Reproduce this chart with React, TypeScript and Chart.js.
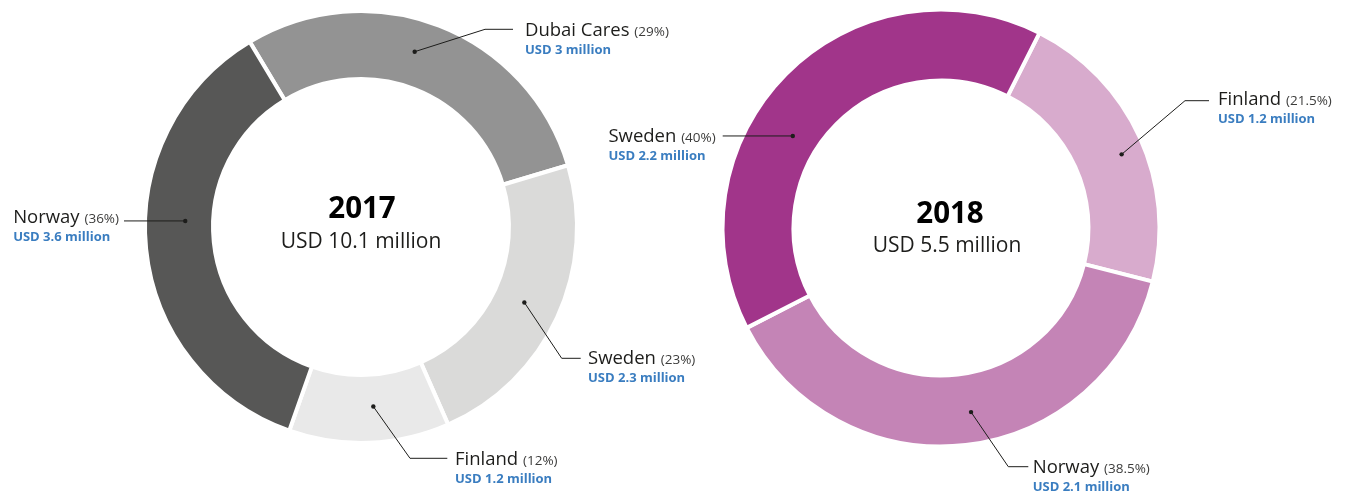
import React, { useEffect, useRef } from 'react';
import { Chart, registerables } from 'chart.js';

Chart.register(...registerables);

const W = 1345;
const H = 493;
const FONT = '"Open Sans", "Noto Sans", "DejaVu Sans", sans-serif';

// ---- data ----
const years = ['2017', '2018'];
const totals = [10.1, 5.5];

const donors2017 = ['Dubai Cares', 'Sweden', 'Finland', 'Norway'];
const shares2017 = [29, 23, 12, 36];
const usd2017 = [3, 2.3, 1.2, 3.6];
const colors2017 = ['#939393', '#dadad9', '#e9e9e9', '#575756'];

const donors2018 = ['Finland', 'Norway', 'Sweden'];
const shares2018 = [21.5, 38.5, 40];
const usd2018 = [1.2, 2.1, 2.2];
const colors2018 = ['#d8abcd', '#c484b6', '#a1358a'];

// ---- layout (label placement relative to donut centre) ----
type LabelLayout = {
  t: number; // fraction along the arc for the anchor dot
  r: number; // fraction between inner and outer radius
  elbow: [number, number] | null;
  endX: number;
  textX: number;
  textY: number;
  align: 'left' | 'right';
};

const layout2017: LabelLayout[] = [
  { t: 0.46, r: 0.52, elbow: [124, -197.7], endX: 152, textX: 164, textY: -191, align: 'left' },
  { t: 0.5, r: 0.47, elbow: [200.7, 131.3], endX: 219.7, textX: 227, textY: 137, align: 'left' },
  { t: 0.46, r: 0.47, elbow: [49, 231.3], endX: 86.3, textX: 94, textY: 238, align: 'left' },
  { t: 0.56, r: 0.41, elbow: null, endX: -237, textX: -242, textY: -4, align: 'right' },
];

const layout2018: LabelLayout[] = [
  { t: 0.53, r: 0.67, elbow: [244, -127.3], endX: 268, textX: 277, textY: -123, align: 'left' },
  { t: 0.48, r: 0.55, elbow: [67.3, 238.7], endX: 87.3, textX: 91.7, textY: 245.3, align: 'left' },
  { t: 0.41, r: 0.38, elbow: null, endX: -218.3, textX: -225.3, textY: -85.7, align: 'right' },
];

type DonutCfg = {
  year: string;
  total: number;
  donors: string[];
  shares: number[];
  usd: number[];
  colors: string[];
  labels: LabelLayout[];
  cx: number;
  cy: number;
  radius: number;
  cutout: string;
  rotation: number;
  yearOffset: [number, number];
  totalOffset: [number, number];
};

const charts: DonutCfg[] = [
  {
    year: years[0], total: totals[0], donors: donors2017, shares: shares2017, usd: usd2017,
    colors: colors2017, labels: layout2017, cx: 361, cy: 227, radius: 216, cutout: '68.5%',
    rotation: -31, yearOffset: [1, -9], totalOffset: [0, 21],
  },
  {
    year: years[1], total: totals[1], donors: donors2018, shares: shares2018, usd: usd2018,
    colors: colors2018, labels: layout2018, cx: 941, cy: 228, radius: 218.5, cutout: '67.5%',
    rotation: 26.8, yearOffset: [9, -5], totalOffset: [6, 24],
  },
];

const NAME_FONT = `18.5px ${FONT}`;
const PCT_FONT = `13.5px ${FONT}`;
const USD_FONT = `bold 13px ${FONT}`;

function makePlugin(cfg: DonutCfg) {
  return {
    id: 'donutLabels' + cfg.year,
    afterDatasetsDraw(chart: any) {
      const ctx: CanvasRenderingContext2D = chart.ctx;
      const meta = chart.getDatasetMeta(0);
      ctx.save();
      let cx = 0;
      let cy = 0;
      meta.data.forEach((arc: any, i: number) => {
        const p = arc.getProps(['x', 'y', 'startAngle', 'endAngle', 'innerRadius', 'outerRadius'], true);
        cx = p.x;
        cy = p.y;
        const L = cfg.labels[i];
        const a = p.startAngle + (p.endAngle - p.startAngle) * L.t;
        const r = p.innerRadius + (p.outerRadius - p.innerRadius) * L.r;
        const dx = p.x + r * Math.cos(a);
        const dy = p.y + r * Math.sin(a);
        ctx.strokeStyle = '#1d1d1b';
        ctx.fillStyle = '#1d1d1b';
        ctx.lineWidth = 1;
        ctx.beginPath();
        ctx.moveTo(dx, dy);
        let ly = dy;
        if (L.elbow) {
          ctx.lineTo(p.x + L.elbow[0], p.y + L.elbow[1]);
          ly = p.y + L.elbow[1];
        }
        ctx.lineTo(p.x + L.endX, ly);
        ctx.stroke();
        ctx.beginPath();
        ctx.arc(dx, dy, 2.2, 0, Math.PI * 2);
        ctx.fill();

        const name = chart.data.labels[i] as string;
        const pct = `(${cfg.shares[i]}%)`;
        const usd = `USD ${cfg.usd[i]} million`;
        ctx.font = NAME_FONT;
        const nw = ctx.measureText(name + ' ').width;
        ctx.font = PCT_FONT;
        const pw = ctx.measureText(pct).width;
        const total = nw + pw;
        let x0 = p.x + L.textX;
        if (L.align === 'right') x0 -= total;
        const by = p.y + L.textY;
        ctx.textAlign = 'left';
        ctx.textBaseline = 'alphabetic';
        ctx.font = NAME_FONT;
        ctx.fillStyle = '#1d1d1b';
        ctx.fillText(name, x0, by);
        ctx.font = PCT_FONT;
        ctx.fillStyle = '#3c3c3b';
        ctx.fillText(pct, x0 + nw, by);
        ctx.font = USD_FONT;
        ctx.fillStyle = '#3a7dc0';
        ctx.fillText(usd, x0, by + 17.5);
      });

      ctx.textAlign = 'center';
      ctx.fillStyle = '#000000';
      ctx.font = `bold 29.5px ${FONT}`;
      ctx.fillText(cfg.year, cx + cfg.yearOffset[0], cy + cfg.yearOffset[1]);
      ctx.fillStyle = '#1d1d1b';
      ctx.font = `21px ${FONT}`;
      ctx.fillText(`USD ${cfg.total} million`, cx + cfg.totalOffset[0], cy + cfg.totalOffset[1]);
      ctx.restore();
    },
  };
}

function Donut({ cfg }: { cfg: DonutCfg }) {
  const ref = useRef<HTMLCanvasElement | null>(null);
  useEffect(() => {
    if (!ref.current) return;
    const half = 220;
    const chart = new Chart(ref.current, {
      type: 'doughnut',
      data: {
        labels: cfg.donors,
        datasets: [
          {
            data: cfg.shares,
            backgroundColor: cfg.colors,
            borderColor: '#ffffff',
            borderWidth: 4,
            hoverOffset: 0,
          },
        ],
      },
      options: {
        responsive: false,
        maintainAspectRatio: false,
        animation: false,
        events: [],
        rotation: cfg.rotation,
        cutout: cfg.cutout,
        radius: cfg.radius,
        layout: {
          padding: {
            left: cfg.cx - half,
            right: W - cfg.cx - half,
            top: cfg.cy - half,
            bottom: H - cfg.cy - half,
          },
        },
        plugins: {
          legend: { display: false },
          tooltip: { enabled: false },
        },
      } as any,
      plugins: [makePlugin(cfg)],
    });
    return () => chart.destroy();
  }, [cfg]);
  return (
    <canvas
      ref={ref}
      width={W}
      height={H}
      style={{ position: 'absolute', left: 0, top: 0, width: W, height: H }}
    />
  );
}

export default function App() {
  return (
    <div
      style={{
        position: 'absolute',
        left: 0,
        top: 0,
        width: W,
        height: H,
        background: '#ffffff',
        overflow: 'hidden',
      }}
    >
      {charts.map((c) => (
        <Donut key={c.year} cfg={c} />
      ))}
    </div>
  );
}
